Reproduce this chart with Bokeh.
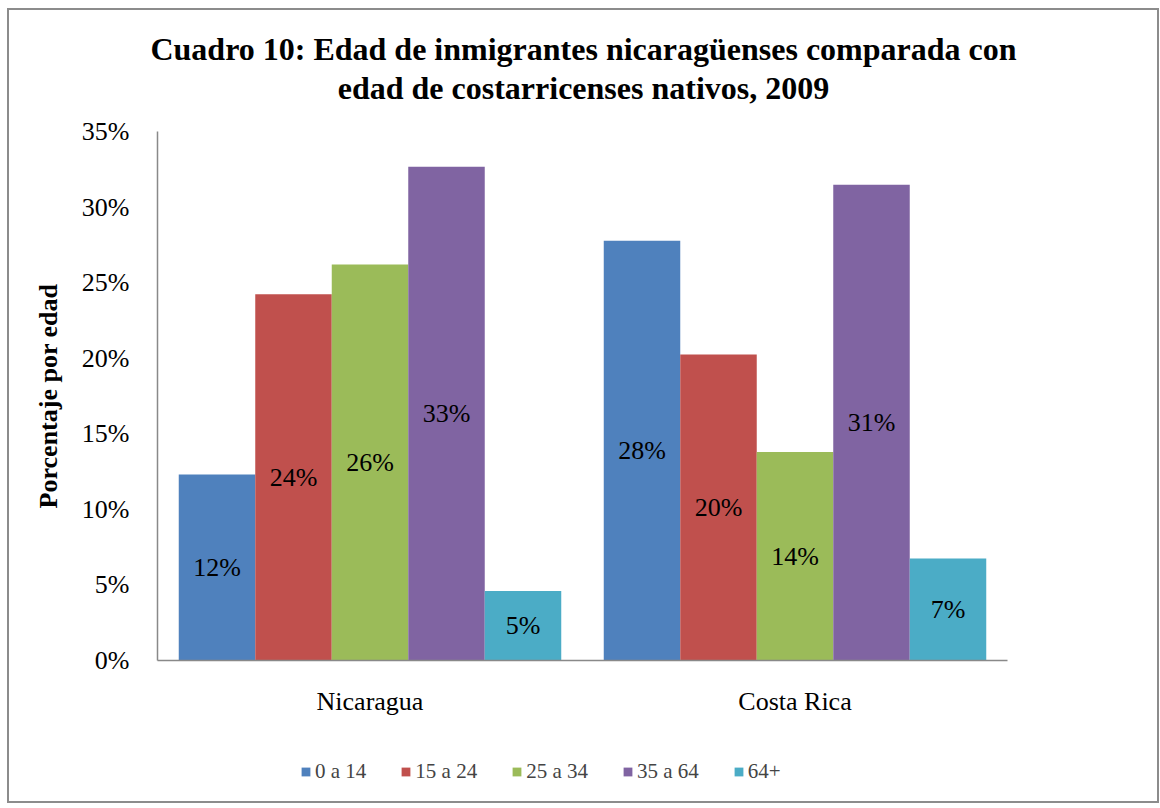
from bokeh.plotting import figure
from bokeh.layouts import column
from bokeh.models import (ColumnDataSource, Range1d, FactorRange, FixedTicker,
                          NumeralTickFormatter, Legend, LegendItem, Label)
from bokeh.transform import dodge
from bokeh.core.properties import value
from bokeh.embed import file_html
from bokeh.resources import INLINE

countries = ["Nicaragua", "Costa Rica"]
age_groups = ["0 a 14", "15 a 24", "25 a 34", "35 a 64", "64+"]
nicaragua = [0.123, 0.2424, 0.262, 0.3267, 0.046]
costa_rica = [0.2778, 0.2025, 0.1379, 0.3148, 0.0675]
colors = ["#4F81BD", "#C0504D", "#9BBB59", "#8064A2", "#4BACC6"]
y_ticks = [0.0, 0.05, 0.10, 0.15, 0.20, 0.25, 0.30, 0.35]
offsets = [-0.36, -0.18, 0.0, 0.18, 0.36]

TITLE_LINES = ["Cuadro 10: Edad de inmigrantes nicaragüenses comparada con",
               "edad de costarricenses nativos, 2009"]
FONT = "Liberation Serif"
W = 1148

x_range = FactorRange(factors=countries, range_padding=0)


def blank(h, xr):
    f = figure(width=W, height=h, x_range=xr, y_range=Range1d(0, h),
               output_backend="svg", toolbar_location=None, title=None,
               x_axis_location=None, y_axis_location=None,
               min_border_left=0, min_border_right=0,
               min_border_top=0, min_border_bottom=0)
    f.outline_line_color = None
    f.xgrid.grid_line_color = None
    f.ygrid.grid_line_color = None
    return f


# ---- title block
tfig = blank(100, Range1d(0, 1))
for txt, yy in ((TITLE_LINES[0], 62), (TITLE_LINES[1], 23)):
    tfig.add_layout(Label(x=0.5, y=yy, text=txt, text_align="center",
                          text_baseline="middle", text_font=FONT,
                          text_font_size="32px", text_font_style="bold",
                          text_color="black"))

# ---- main chart
p = figure(x_range=x_range, y_range=Range1d(0, 0.35),
           width=W, height=610, title=None,
           output_backend="svg", toolbar_location=None,
           min_border_left=148, min_border_right=150,
           min_border_top=21, min_border_bottom=60)
p.outline_line_color = None
p.xgrid.grid_line_color = None
p.ygrid.grid_line_color = None

sources = []
for i, grp in enumerate(age_groups):
    vals = [nicaragua[i], costa_rica[i]]
    src = ColumnDataSource(dict(
        x=countries, y=vals,
        ymid=[v / 2 for v in vals],
        lab=[f"{int(v * 100 + 0.5)}%" for v in vals]))
    sources.append(src)
    p.vbar(x=dodge("x", offsets[i], range=x_range), top="y", width=0.18,
           source=src, fill_color=colors[i], line_color=None)
    p.text(x=dodge("x", offsets[i], range=x_range), y="ymid", text="lab",
           source=src, text_align="center", text_baseline="middle",
           text_font=value(FONT), text_font_size="26px", text_color="black")

for ax in (p.xaxis[0], p.yaxis[0]):
    ax.axis_line_color = "#898989"
    ax.axis_line_width = 1.5
    ax.major_tick_line_color = None
    ax.minor_tick_line_color = None
    ax.major_label_text_font = FONT
    ax.major_label_text_font_size = "26px"
    ax.major_label_text_color = "black"

p.yaxis.ticker = FixedTicker(ticks=y_ticks)
p.yaxis.formatter = NumeralTickFormatter(format="0%")
p.yaxis.major_label_standoff = 22
p.yaxis.axis_label = "Porcentaje por edad"
p.yaxis.axis_label_text_font = FONT
p.yaxis.axis_label_text_font_size = "26px"
p.yaxis.axis_label_text_font_style = "bold"
p.yaxis.axis_label_text_color = "black"
p.yaxis.axis_label_standoff = 16
p.xaxis.major_label_standoff = 20

# ---- legend block (hidden proxies share the chart's data)
lfig = blank(81, x_range)
items = []
for i, (grp, c) in enumerate(zip(age_groups, colors)):
    r = lfig.vbar(x=dodge("x", offsets[i], range=x_range), top="y", width=0.18,
                  source=sources[i], fill_color=c, line_color=None, visible=False)
    items.append(LegendItem(label=grp, renderers=[r]))
legend = Legend(items=items, orientation="horizontal", location=(143, 17),
                border_line_color=None, background_fill_alpha=0,
                inactive_fill_alpha=0,
                label_text_font=FONT, label_text_font_size="21px",
                glyph_width=11, glyph_height=11, label_standoff=4,
                spacing=34, padding=0, margin=0)
lfig.add_layout(legend, "center")

layout = column(column(tfig), p, lfig, spacing=0,
                styles={"border": "2px solid #8c8c8c", "margin-left": "7px",
                        "margin-top": "8px", "background-color": "white"})

open("out.html", "w").write(file_html(layout, INLINE))
